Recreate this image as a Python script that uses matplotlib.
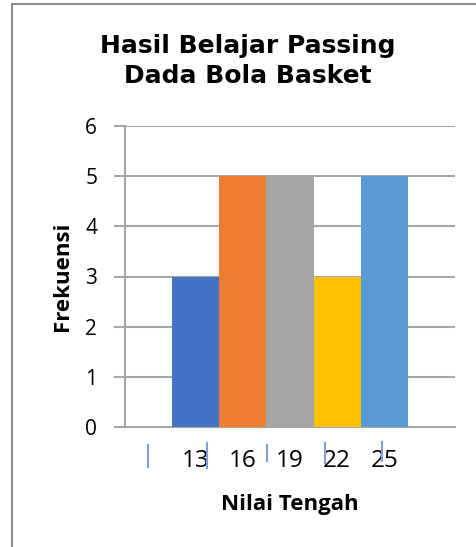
import matplotlib.pyplot as plt
from matplotlib.patches import Rectangle
from matplotlib.lines import Line2D
import numpy as np

# data
nilai_tengah = ['13', '16', '19', '22', '25']
frekuensi = [3, 5, 5, 3, 5]
bar_colors = ['#4472C4', '#ED7D31', '#A5A5A5', '#FFC000', '#5B9BD5']

W, H = 476, 547
fig = plt.figure(figsize=(W / 100, H / 100), dpi=100)
ax = fig.add_axes([125 / W, 1 - 427 / H, 330 / W, 301 / H])

x = np.arange(len(nilai_tengah))
ax.bar(x, frekuensi, width=1.0, color=bar_colors, zorder=3)

ax.set_xlim(-1.5, len(nilai_tengah) + 0.5)
ax.set_ylim(0, 6)
ax.set_yticks(range(0, 7))
ax.set_xticks(x)
ax.set_xticklabels(nilai_tengah)

grid_col = '#A6A6A6'
ax.yaxis.grid(True, color=grid_col, linewidth=1.5, zorder=0)
for s in ['top', 'right']:
    ax.spines[s].set_visible(False)
for s in ['left', 'bottom']:
    ax.spines[s].set_color(grid_col)
    ax.spines[s].set_linewidth(1.5)

ax.tick_params(axis='y', length=8, width=1.5, color=grid_col, pad=12,
               labelsize=15, labelcolor='black')
ax.tick_params(axis='x', length=0, pad=16, labelsize=17.5, labelcolor='black')
for lab in ax.get_xticklabels() + ax.get_yticklabels():
    lab.set_fontfamily('Open Sans')

ax.set_ylabel('Frekuensi', fontsize=16, fontweight='bold', family='Open Sans', va='center')
ax.set_xlabel('Nilai Tengah', fontsize=16, fontweight='bold', family='Open Sans', va='center')
ax.yaxis.set_label_coords(-0.188, 0.5)
ax.xaxis.set_label_coords(0.5, -0.258)

fig.text(248 / W, 1 - 61 / H, 'Hasil Belajar Passing\nDada Bola Basket',
         ha='center', va='center', fontsize=18, fontweight='bold',
         family='DejaVu Sans', linespacing=1.3)

# stray blue strokes under the axis
for px, y0, y1 in [(148, 445, 467), (207, 443, 468), (267, 445, 461),
                   (325, 443, 463), (382, 442, 461)]:
    fig.add_artist(Line2D([px / W, px / W], [1 - y0 / H, 1 - y1 / H],
                          transform=fig.transFigure, color='#7F9FDD', linewidth=1.5))

# chart border
fig.add_artist(Rectangle((12 / W, -0.05), 1.2, 1.05 - 4 / H, transform=fig.transFigure,
                         fill=False, edgecolor='#8C8C8C', linewidth=1.5))

fig.savefig('out.png', dpi=100)
